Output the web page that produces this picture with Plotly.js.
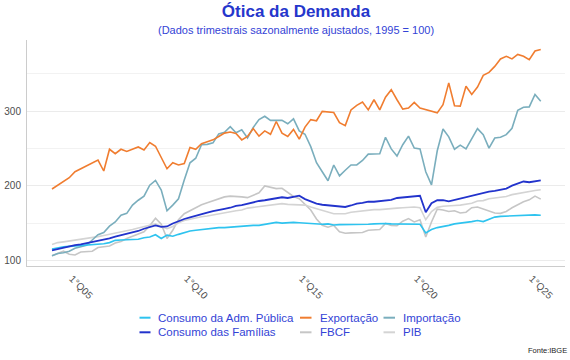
<!DOCTYPE html>
<html>
<head>
<meta charset="utf-8">
<script src="https://cdn.plot.ly/plotly-3.0.1.min.js"></script>
<style>html,body{margin:0;padding:0;background:#fff}#chart{width:570px;height:360px}</style>
</head>
<body>
<div id="chart"></div>
<script>
// ---- categories: quarters 2004Q1 .. 2025Q2 ----
const startYear = 2004;
const quarterCount = 86;
const quarters = [];
for (let i = 0; i < quarterCount; i++) {
  quarters.push((startYear + Math.floor(i / 4)) + 'Q' + (i % 4 + 1));
}
const tickPositions = ['2005Q1', '2010Q1', '2015Q1', '2020Q1', '2025Q1'];
const tickLabels = ['1°Q05', '1°Q10', '1°Q15', '1°Q20', '1°Q25'];

// ---- series (index, 1995 = 100) ----
const admPublica = [
  116, 118, 119, 119.5, 120, 120.5, 121, 121.5, 122, 123,
  124.5, 127.5, 128, 128, 129, 129, 131, 132, 135, 130,
  134.5, 133, 135.5, 138, 140, 141, 142, 142.5, 143.5, 144.5,
  144.5, 145, 146, 146.5, 147.5, 147.5, 147.5, 149, 150.5, 151.5,
  150.5, 151, 151.5, 151, 150.5, 150, 149, 149, 149.5, 148,
  148.5, 148.5, 148, 148.5, 148.5, 149, 149.5, 150, 150, 149.5,
  149.5, 149.5, 149.5, 149, 149, 137.5, 142, 144.5, 145.5, 147.5,
  149.5, 151, 151.5, 152.5, 154, 152.5, 155, 158.5, 159.5, 160,
  160.5, 161, 161.5, 161.5, 161.5, 161
];
const familias = [
  114, 116, 118, 119.5, 121, 122, 123.5, 125, 127, 128.5,
  130, 132.5, 134.5, 135.5, 137.5, 140, 143, 145, 147.5, 145.5,
  146, 150, 153.5, 156, 158, 160.5, 162.5, 164.5, 166.5, 168.5,
  169.5, 171, 173.5, 174.5, 176.5, 178, 180, 181, 182, 183,
  185, 184, 185.5, 187, 182.5, 179, 176.5, 175, 174, 173,
  172.5, 172, 174, 176.5, 177.5, 179, 179, 179.5, 180.5, 181.5,
  184, 185, 186, 186.5, 187, 165, 177, 181, 181, 179.5,
  181.5, 182.5, 184.5, 187.5, 189.5, 191, 192.5, 193.5, 195, 196.5,
  200.5, 203.5, 206, 205, 206.5, 207.5
];
const exportacao = [
  196, 201, 205, 211, 219, 223, 226, 230, 234.5, 220,
  249, 243, 249, 246, 249, 252, 248, 258, 253, 239,
  223, 231, 228, 230, 251.5, 249, 256.5, 259, 261.5, 266,
  270.5, 272, 270, 261.5, 266, 276.5, 266.5, 273.5, 269, 286,
  270.5, 266, 275.5, 262.5, 278.5, 288.5, 287, 299.5, 298.5, 298,
  284.5, 280.5, 301.5, 307.5, 312, 301.5, 315, 301.5, 318.5, 328.5,
  315, 302.5, 304, 311.5, 304, 301.5, 299.5, 297.5, 308.5, 337.5,
  307, 306.5, 333, 322, 332, 347.5, 351.5, 359.5, 369.5, 373,
  369.5, 375.5, 373, 368.5, 380, 382
];
const importacao = [
  107, 110, 111, 113, 117, 119, 121, 128, 135, 138,
  146.5, 152, 161, 163.5, 174.5, 181, 186.5, 201, 207.5, 194.5,
  167, 174.5, 183, 208, 231, 237, 255, 255.5, 257.5, 269.5,
  271.5, 279, 271, 275, 264, 278, 288.5, 293, 287.5, 287.5,
  287.5, 283, 289.5, 273.5, 269, 252.5, 231, 219, 207, 228,
  213.5, 221, 228, 228, 234, 242.5, 243, 243, 265, 249.5,
  240, 255, 266.5, 250.5, 249.5, 219, 201.5, 247, 276, 265.5,
  249, 254.5, 249.5, 264, 276.5, 268.5, 250.5, 264, 265, 268.5,
  277, 301, 305, 305.5, 322, 313
];
const fbcf = [
  107, 110, 113, 109, 108, 112, 112, 113, 118, 119,
  120, 124, 126, 130, 133, 136, 139, 147, 157, 149,
  130, 141, 155, 163, 167, 171, 175, 177.5, 180, 183.5,
  185.5, 186.5, 186.5, 185.5, 184.5, 188, 191, 200, 198, 196.5,
  197, 191, 186, 183, 176, 168, 156, 147.5, 145, 147.5,
  139, 137, 137.5, 137.5, 138, 141, 142, 142, 150, 147.5,
  147, 153, 156.5, 152, 155, 132, 152, 169, 168, 166,
  167, 164, 165, 171, 172, 169, 166, 164, 163.5, 166,
  171, 175, 179, 181.5, 186.5, 182.5
];
const pib = [
  122, 124.5, 125.5, 126.5, 127.5, 128.5, 129.5, 131, 132.5, 134,
  135.5, 137.5, 139, 140.5, 142, 144, 145.5, 147.5, 149.5, 146,
  143, 146, 151, 154, 156, 157.5, 159, 160, 161.5, 162.5,
  164.5, 166, 167, 168, 170.5, 171.5, 172.5, 174.5, 174.5, 175.5,
  176.5, 175.5, 175.5, 175.5, 174.5, 172, 169.5, 167, 164.5, 163,
  163, 163, 165, 166, 167, 168, 168.5, 168.5, 169.5, 170,
  170.5, 171, 171.5, 172, 171, 155, 166, 171.5, 173, 173,
  174, 174.5, 176, 177, 180, 180.5, 183, 184, 185, 186,
  188.5, 190, 191.5, 192, 194, 195
];

const seriesNames = ['Consumo da Adm. Pública', 'Exportação', 'Importação',
                     'Consumo das Famílias', 'FBCF', 'PIB'];
const seriesValues = [admPublica, exportacao, importacao, familias, fbcf, pib];
const seriesColors = ['#2ec3ef', '#f07d30', '#7aaebd', '#2233cc', '#c6c6c6', '#d4d4d4'];
const seriesWidths = [1.6, 1.6, 1.6, 1.8, 1.6, 1.6];
const drawOrder = [4, 5, 2, 1, 0, 3];

// quarter label -> numeric position on a linear time axis
function qpos(label) {
  const y = parseInt(label.slice(0, 4), 10);
  const q = parseInt(label.slice(5), 10);
  return y + (q - 1) / 4;
}
const xVals = quarters.map(qpos);

const traces = drawOrder.map(k => ({
  type: 'scatter', mode: 'lines', name: seriesNames[k],
  x: xVals, y: seriesValues[k],
  line: {color: seriesColors[k], width: seriesWidths[k]},
  showlegend: false, hoverinfo: 'skip'
}));

// ---- layout geometry ----
const W = 570, H = 360;
const M = {l: 27, r: 5, t: 40, b: 94};
const PW = W - M.l - M.r, PH = H - M.t - M.b;
const px2x = p => (p - M.l) / PW;
const px2y = p => (H - M.b - p) / PH;

const FONT = 'Liberation Sans, Arial, Helvetica, sans-serif';
const BLUE_TEXT = '#3343d6';

// legend (3 columns x 2 rows) drawn as swatches + labels
const legendCols = [{line: [139.5, 150.5], text: 156.5}, {line: [300, 311.5], text: 318.8}, {line: [383.5, 395], text: 401.5}];
const legendRows = [317.7, 332.3];
const shapes = [];
const annotations = [];
seriesNames.forEach((name, k) => {
  const col = legendCols[k % 3], row = legendRows[Math.floor(k / 3)];
  shapes.push({type: 'line', xref: 'paper', yref: 'paper',
    x0: px2x(col.line[0]), x1: px2x(col.line[1]), y0: px2y(row), y1: px2y(row),
    line: {color: seriesColors[k], width: 2}});
  annotations.push({text: name, xref: 'paper', yref: 'paper', x: px2x(col.text), y: px2y(row),
    xanchor: 'left', yanchor: 'middle', showarrow: false, borderpad: 0,
    font: {family: FONT, size: 11.5, color: BLUE_TEXT}});
});
annotations.push({text: '(Dados trimestrais sazonalmente ajustados, 1995 = 100)',
  xref: 'paper', yref: 'paper', x: 0.5, y: px2y(29.5), xanchor: 'center', yanchor: 'middle',
  showarrow: false, borderpad: 0, font: {family: FONT, size: 11, color: BLUE_TEXT}});
annotations.push({text: 'Fonte:IBGE', xref: 'paper', yref: 'paper', x: px2x(568), y: px2y(350),
  xanchor: 'right', yanchor: 'middle', showarrow: false, borderpad: 0,
  font: {family: FONT, size: 7.5, color: '#222222'}});

const layout = {
  width: W, height: H, margin: M,
  paper_bgcolor: '#ffffff', plot_bgcolor: '#ffffff',
  font: {family: FONT},
  showlegend: false,
  title: {text: 'Ótica da Demanda', xref: 'paper', x: 0.5, xanchor: 'center',
          yref: 'container', y: 1 - 10.8 / H, yanchor: 'middle',
          font: {family: FONT, size: 17, color: '#2536cc', weight: 'bold'}},
  xaxis: {
    range: [qpos('2005Q1') - 48 / 23, qpos('2025Q1') + 30 / 23],
    tickmode: 'array', tickvals: tickPositions.map(qpos), ticktext: tickLabels,
    tickangle: 45, tickfont: {family: FONT, size: 10, color: '#4d4d4d'},
    ticklabelshift: -3, ticklabelstandoff: 2,
    showgrid: false, zeroline: false, showline: true, linecolor: '#cccccc', linewidth: 1,
    ticks: '', fixedrange: true
  },
  yaxis: {
    range: [93.3, 394.7],
    tickmode: 'array', tickvals: [100, 200, 300],
    tickfont: {family: FONT, size: 10, color: '#4d4d4d'},
    showgrid: true, gridcolor: '#ebebeb', gridwidth: 1,
    minor: {tickmode: 'array', tickvals: [150, 250, 350], showgrid: true, gridcolor: '#f2f2f2', gridwidth: 1},
    zeroline: false, showline: true, linecolor: '#cccccc', linewidth: 1,
    ticks: '', ticklabelstandoff: 3, fixedrange: true
  },
  shapes: shapes,
  annotations: annotations
};

Plotly.newPlot('chart', traces, layout, {displayModeBar: false, staticPlot: true});
</script>
</body>
</html>
